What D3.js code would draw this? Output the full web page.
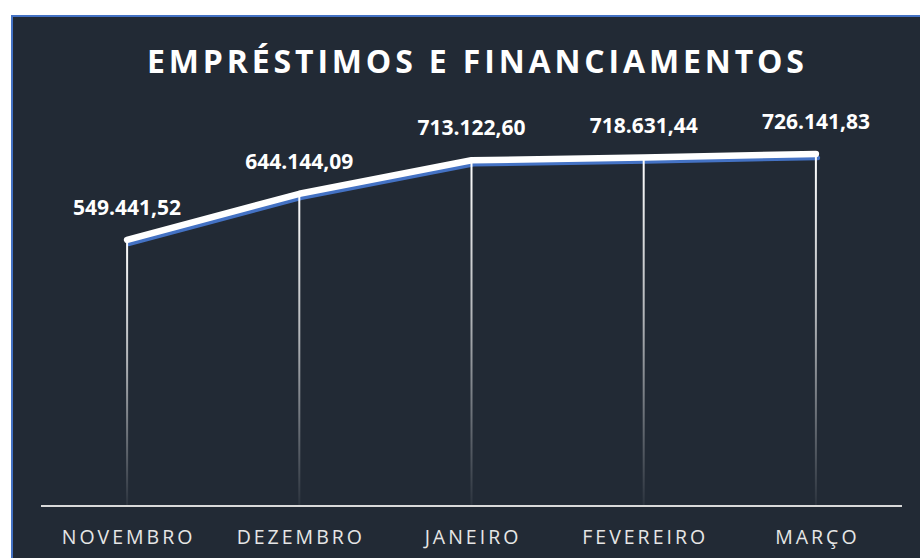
<!DOCTYPE html>
<html>
<head>
<meta charset="utf-8">
<script src="https://cdn.jsdelivr.net/npm/d3@7"></script>
<style>
  html, body { margin: 0; padding: 0; background: #ffffff; }
  svg { display: block; }
</style>
</head>
<body>
<svg id="chart"></svg>
<script>
'use strict';

// ── データ ────────────────────────────────────────────────
const months = ['NOVEMBRO', 'DEZEMBRO', 'JANEIRO', 'FEVEREIRO', 'MARÇO'];
const values = [549441.52, 644144.09, 713122.60, 718631.44, 726141.83];
const valueLabels = ['549.441,52', '644.144,09', '713.122,60', '718.631,44', '726.141,83'];
const title = 'EMPRÉSTIMOS E FINANCIAMENTOS';

// ── 寸法 / 色 ─────────────────────────────────────────────
const W = 920, H = 558;
const BG = '#222a35';
const BLUE = '#4472c4';
const FONT = '"Open Sans", "DejaVu Sans", sans-serif';

const svg = d3.select('#chart').attr('width', W).attr('height', H);

// 背景 + 枠（上と左に青い線）
svg.append('rect')
  .attr('x', 11).attr('y', 15)
  .attr('width', W - 11).attr('height', H - 15)
  .attr('fill', BLUE);
svg.append('rect')
  .attr('x', 13).attr('y', 17)
  .attr('width', W - 13).attr('height', H - 17)
  .attr('fill', BG);

// グラデーション（ドロップライン用）
const defs = svg.append('defs');
const grad = defs.append('linearGradient')
  .attr('id', 'dropGrad')
  .attr('x1', 0).attr('y1', 0).attr('x2', 0).attr('y2', 1);
grad.append('stop').attr('offset', 0).attr('stop-color', '#ffffff').attr('stop-opacity', 1);
grad.append('stop').attr('offset', 0.45).attr('stop-color', '#ffffff').attr('stop-opacity', 0.65);
grad.append('stop').attr('offset', 1).attr('stop-color', '#ffffff').attr('stop-opacity', 0.04);

// ── スケール ──────────────────────────────────────────────
const x = d3.scaleBand().domain(months).range([41, 902]);
const y = d3.scaleLinear().domain([0, 800000]).range([507, 118]);
const cx = m => x(m) + x.bandwidth() / 2;

const data = months.map((m, i) => ({ m, v: values[i], label: valueLabels[i] }));

// ── タイトル ──────────────────────────────────────────────
const titleEl = svg.append('text')
  .attr('x', 147).attr('y', 73)
  .attr('fill', '#ffffff')
  .attr('font-family', FONT)
  .attr('font-size', 32)
  .attr('font-weight', 700)
  .text(title);
{
  const natural = titleEl.node().getComputedTextLength();
  const ls = (657 - natural) / (title.length - 1);
  titleEl.attr('letter-spacing', ls);
}

// ── 線 ────────────────────────────────────────────────────
const line = d3.line().x(d => cx(d.m)).y(d => y(d.v));

// 青い影
svg.append('path')
  .datum(data)
  .attr('d', line)
  .attr('transform', 'translate(2,4)')
  .attr('fill', 'none')
  .attr('stroke', BLUE)
  .attr('stroke-width', 4.5)
  .attr('stroke-linecap', 'round')
  .attr('stroke-linejoin', 'round');

// ドロップライン
svg.selectAll('.drop')
  .data(data)
  .join('rect')
  .attr('class', 'drop')
  .attr('x', d => cx(d.m) - 1)
  .attr('y', d => y(d.v))
  .attr('width', 2)
  .attr('height', d => y(0) - y(d.v))
  .attr('fill', 'url(#dropGrad)');

// 白い線
svg.append('path')
  .datum(data)
  .attr('d', line)
  .attr('fill', 'none')
  .attr('stroke', '#ffffff')
  .attr('stroke-width', 6.5)
  .attr('stroke-linecap', 'round')
  .attr('stroke-linejoin', 'round');

// 軸線
svg.append('line')
  .attr('x1', 41).attr('x2', 902)
  .attr('y1', 506).attr('y2', 506)
  .attr('stroke', '#d9d9d9')
  .attr('stroke-width', 2);

// ── ラベル ────────────────────────────────────────────────
svg.selectAll('.val')
  .data(data)
  .join('text')
  .attr('class', 'val')
  .attr('x', d => cx(d.m))
  .attr('y', d => y(d.v) - 25)
  .attr('text-anchor', 'middle')
  .attr('fill', '#ffffff')
  .attr('font-family', FONT)
  .attr('font-size', 21)
  .attr('font-weight', 700)
  .text(d => d.label);

// X軸ラベル
svg.selectAll('.cat')
  .data(months)
  .join('text')
  .attr('class', 'cat')
  .attr('x', d => cx(d) + 1.5)
  .attr('y', 544)
  .attr('text-anchor', 'middle')
  .attr('fill', '#e6e6e6')
  .attr('font-family', FONT)
  .attr('font-size', 19.5)
  .attr('letter-spacing', 3)
  .text(d => d);
</script>
</body>
</html>
